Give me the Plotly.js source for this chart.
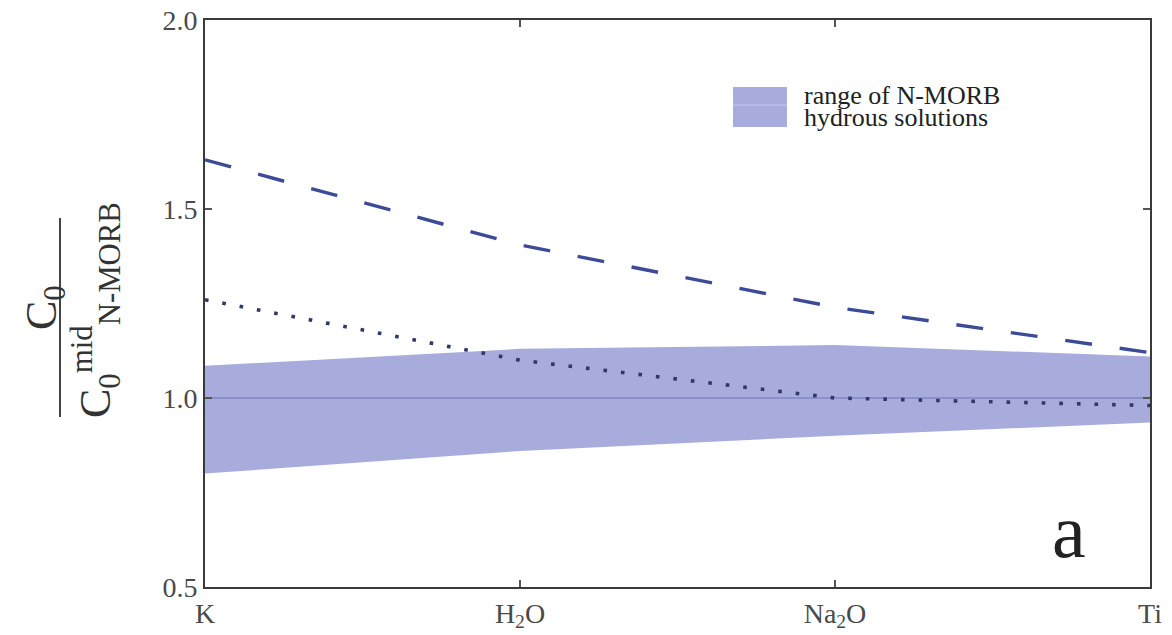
<!DOCTYPE html>
<html>
<head>
<meta charset="utf-8">
<script src="https://cdn.plot.ly/plotly-3.0.1.min.js"></script>
<style>html,body{margin:0;padding:0;background:#fff;}#chart{width:1172px;height:635px;}</style>
</head>
<body>
<div id="chart"></div>
<script>
// ---- data ----
const categories = ['K', 'H<sub>2</sub>O', 'Na<sub>2</sub>O', 'Ti'];
const catIndex = [0, 1, 2, 3];
const bandUpper = [1.085, 1.13, 1.14, 1.11];
const bandLower = [0.80, 0.86, 0.90, 0.935];
const midLine = [1.0, 1.0, 1.0, 1.0];
const dashedSeries = [1.63, 1.405, 1.24, 1.12];
const dottedSeries = [1.26, 1.10, 1.00, 0.98];
const yTickVals = [0.5, 1.0, 1.5, 2.0];
const yTickText = ['0.5', '1.0', '1.5', '2.0'];

// ---- layout geometry (pixels) ----
const W = 1172, H = 635;
const M = {l: 205, r: 22, t: 20, b: 48};
const PW = W - M.l - M.r, PH = H - M.t - M.b;
const px = x => (x - M.l) / PW;
const py = y => (H - M.b - y) / PH;

const SERIF = '"Liberation Serif", "Times New Roman", serif';
const bandColor = '#a7acdc';

const traces = [
  {x: catIndex, y: bandLower, mode: 'lines', line: {width: 0, color: bandColor}, showlegend: false, hoverinfo: 'skip'},
  {x: catIndex, y: bandUpper, mode: 'lines', fill: 'tonexty', fillcolor: bandColor, line: {width: 0, color: bandColor}, showlegend: false, hoverinfo: 'skip'},
  {x: catIndex, y: midLine, mode: 'lines', line: {width: 1.2, color: '#6e76b4'}, showlegend: false},
  {x: catIndex, y: dashedSeries, mode: 'lines', line: {width: 3.4, color: '#3c4b98', dash: '27px,28px'}, showlegend: false},
  {x: catIndex, y: dottedSeries, mode: 'lines', line: {width: 3.6, color: '#30376a', dash: '3.6px,14px'}, showlegend: false}
];

const layout = {
  width: W, height: H,
  margin: M,
  paper_bgcolor: '#fff', plot_bgcolor: '#fff',
  showlegend: false,
  font: {family: SERIF, color: '#444'},
  xaxis: {
    range: [0, 3], tickvals: catIndex, ticktext: categories,
    showline: true, linecolor: '#3a3a3a', linewidth: 2, mirror: 'ticks',
    ticks: 'inside', ticklen: 7, tickwidth: 1.5, tickcolor: '#555',
    showgrid: false, zeroline: false,
    tickfont: {family: SERIF, size: 28, color: '#4a4a4a'}
  },
  yaxis: {
    range: [0.5, 2.0], tickvals: yTickVals, ticktext: yTickText,
    showline: true, linecolor: '#3a3a3a', linewidth: 2, mirror: 'ticks',
    ticks: 'inside', ticklen: 7, tickwidth: 1.5, tickcolor: '#555',
    showgrid: false, zeroline: false,
    tickfont: {family: SERIF, size: 28, color: '#4a4a4a'}
  },
  shapes: [
    // fraction bar of the y title
    {type: 'line', xref: 'paper', yref: 'paper', x0: px(60), x1: px(60), y0: py(218), y1: py(417), line: {color: '#444', width: 2}},
    // legend patch
    {type: 'rect', xref: 'paper', yref: 'paper', x0: px(733), x1: px(787), y0: py(127), y1: py(87), fillcolor: bandColor, line: {width: 0}},
    {type: 'line', xref: 'paper', yref: 'paper', x0: px(733), x1: px(787), y0: py(105), y1: py(105), line: {color: '#c4c8ea', width: 1.2}}
  ],
  annotations: [
    {text: 'C<sub>0</sub>', xref: 'paper', yref: 'paper', x: px(44), y: py(308), textangle: -90, showarrow: false,
     xanchor: 'center', yanchor: 'middle', font: {family: SERIF, size: 44, color: '#333'}},
    {text: 'C<sub>0</sub><sup>mid</sup><sub>N-MORB</sub>', xref: 'paper', yref: 'paper', x: px(96), y: py(310), textangle: -90, showarrow: false,
     xanchor: 'center', yanchor: 'middle', font: {family: SERIF, size: 44, color: '#333'}},
    {text: 'range of N-MORB', xref: 'paper', yref: 'paper', x: px(802), y: py(95), showarrow: false,
     xanchor: 'left', yanchor: 'middle', font: {family: SERIF, size: 26, color: '#222'}},
    {text: 'hydrous solutions', xref: 'paper', yref: 'paper', x: px(802), y: py(117), showarrow: false,
     xanchor: 'left', yanchor: 'middle', font: {family: SERIF, size: 26, color: '#222'}},
    {text: 'a', xref: 'paper', yref: 'paper', x: px(1069), y: py(531), showarrow: false,
     xanchor: 'center', yanchor: 'middle', font: {family: SERIF, size: 76, color: '#222'}}
  ]
};

Plotly.newPlot('chart', traces, layout, {staticPlot: true, displayModeBar: false});
</script>
</body>
</html>
